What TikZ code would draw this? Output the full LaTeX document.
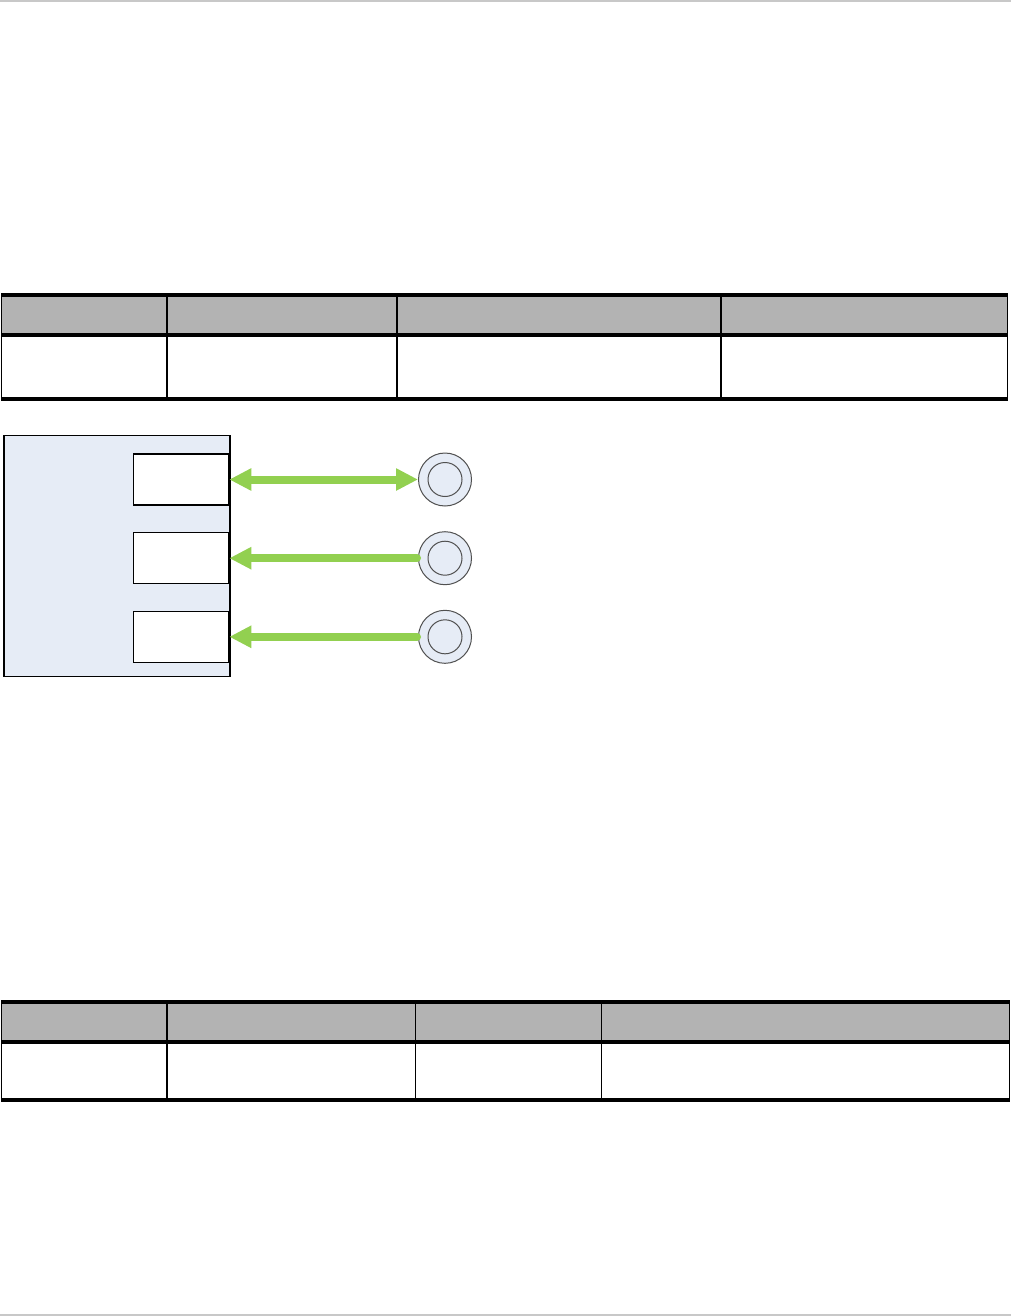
\documentclass[tikz,border=0pt]{standalone}
\usetikzlibrary{arrows.meta}
\definecolor{hdrgray}{HTML}{B3B3B3}
\definecolor{rulegray}{HTML}{C8C8C8}
\definecolor{paleblue}{HTML}{E6ECF6}
\definecolor{arrgreen}{HTML}{92D050}
\definecolor{ringgray}{HTML}{505050}
\tikzset{
  thinrule/.style={line width=1.4pt, black},
  portbox/.style={draw=black, line width=1.3pt, fill=white, rectangle, inner sep=0pt,
     minimum width=95pt, minimum height=51pt, anchor=east},
  ring/.style={draw=ringgray, line width=1pt, fill=paleblue, circle, inner sep=0pt,
     minimum size=53pt},
  innerring/.style={draw=ringgray, line width=1pt, circle, inner sep=0pt, minimum size=34pt},
  flow/.style={arrgreen, line width=8pt,
     -{Triangle[length=22pt,width=21pt]}},
  flowboth/.style={arrgreen, line width=8pt,
     {Triangle[length=22pt,width=21pt]}-{Triangle[length=22pt,width=21pt]}},
}
\newcommand{\tablehead}[5]{% #1 top y, #2 header bottom y, #3 body bottom y, #4 left x, #5 right x
  \fill[hdrgray] (#4,#1) rectangle (#5,#2);
  \fill[black] (#4,#1) rectangle (#5,#1+3.7);
  \fill[black] (#4,#2) rectangle (#5,#2+4);
  \fill[black] (#4,#3) rectangle (#5,#3+3.7);
}
\begin{document}
\begin{tikzpicture}[x={(1pt,0)}, y={(0,-1pt)}]
\useasboundingbox (0,0) rectangle (1011,1316);
\fill[white] (0,0) rectangle (1011,1316);
% page rules
\fill[rulegray] (0,0) rectangle (1011,2);
\fill[rulegray] (0,1314) rectangle (1011,1316);

% ---- table 1 ----
\tablehead{293}{333}{397}{1}{1008}
\foreach \xx in {1.7,167,397,721,1007.3}
  \draw[thinrule] (\xx,296) -- (\xx,397.5);

% ---- table 2 ----
\tablehead{1000}{1040}{1098}{1}{1010}
\foreach \xx in {1.7,167,415.5,601.5,1009.3}
  \draw[thinrule] (\xx,1003) -- (\xx,1098.5);

% ---- diagram ----
\node[draw=black, line width=1.3pt, fill=paleblue, rectangle, inner sep=0pt,
      minimum width=226pt, minimum height=241pt, anchor=north west] (box) at (3.3,435) {};
\node[portbox] (p1) at (229.3,479.5) {};
\node[portbox] (p2) at (229.3,558.2) {};
\node[portbox] (p3) at (229.3,636.8) {};

\node[ring] (c1) at (445,479.5) {};
\node[ring] (c2) at (445,558.2) {};
\node[ring] (c3) at (445,636.8) {};
\node[innerring] (i1) at (c1) {};
\node[innerring] (i2) at (c2) {};
\node[innerring] (i3) at (c3) {};

\draw[flowboth] (p1.east) -- (c1.west);
\draw[flow, line cap=round] ([xshift=-1pt]c2.west) -- (p2.east);
\draw[flow, line cap=round] ([xshift=-1pt]c3.west) -- (p3.east);
\end{tikzpicture}
\end{document}
